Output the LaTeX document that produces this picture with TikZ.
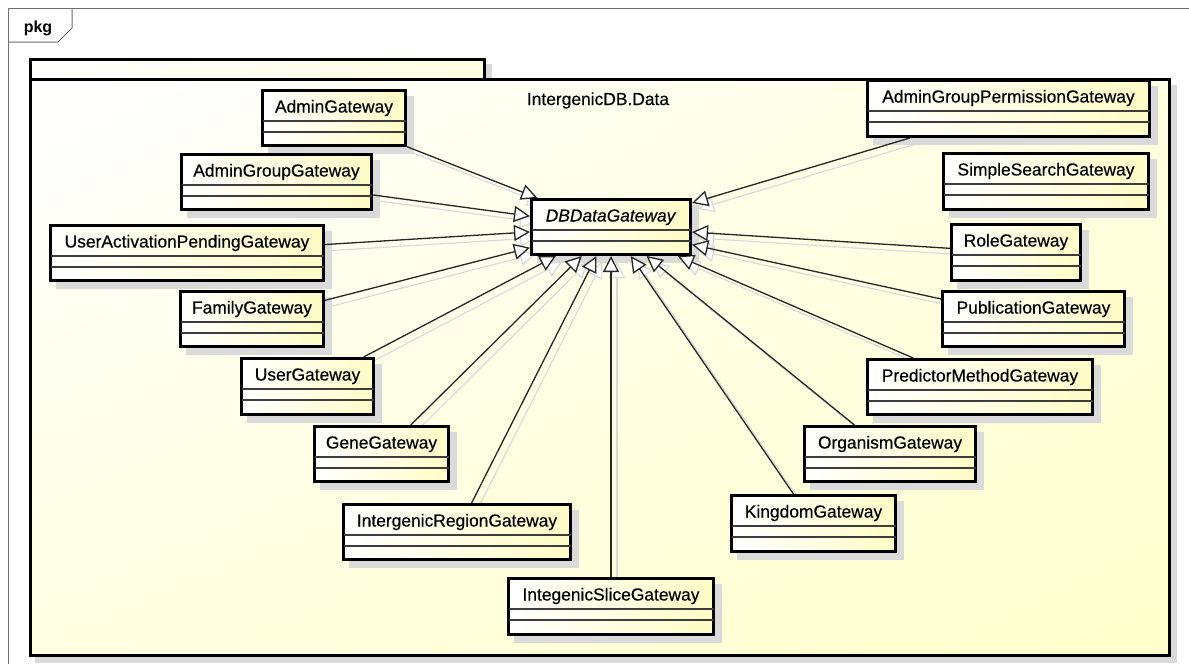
\documentclass[tikz,border=0pt]{standalone}
\usepackage{fontspec}
\setmainfont{Liberation Sans}
\newfontfamily\clsfont[FakeBold=0.35]{Liberation Sans}
\usetikzlibrary{arrows.meta,calc,shadings}

\definecolor{clsyellow}{RGB}{255,252,198}
\definecolor{pkgyellow}{RGB}{255,255,204}
\definecolor{pkgmid}{RGB}{255,255,226}
\definecolor{shadowgray}{RGB}{218,218,218}
\definecolor{framegray}{RGB}{110,110,110}
\definecolor{sepgray}{RGB}{60,60,60}

\pgfdeclarelayer{pkg}
\pgfdeclarelayer{shadows}
\pgfdeclarelayer{linkshadows}
\pgfdeclarelayer{links}
\pgfsetlayers{pkg,shadows,linkshadows,links,main}

\tikzset{
  clsbox/.style={draw=black, line width=3pt, left color=white, right color=clsyellow, inner sep=0pt},
  clsname/.style={font=\clsfont\fontsize{17.4}{20}\selectfont, anchor=base, inner sep=0pt},
  compart/.style={draw=sepgray, line width=1.4pt},
  genlink/.style={draw=black!85, line width=1.3pt, -{Triangle[length=16pt,width=16pt,fill=white]}},
  genshadow/.style={draw=shadowgray, line width=1.2pt, -{Triangle[length=16pt,width=16pt,fill=white]},
                    transform canvas={shift={(6pt,-6pt)}}},
}

% class box: name, left, top, right, bottom, class name
\newcommand\classbox[6]{%
  \node[clsbox, minimum width={#4-#2-3}, minimum height={#5-#3-3}] (#1) at ({(#2+#4)/2},{(#3+#5)/2}) {};
  \draw[compart] ($(#1.north west)+(1.5,32)$) -- ($(#1.north east)+(-1.5,32)$);
  \draw[compart] ($(#1.north west)+(1.5,43)$) -- ($(#1.north east)+(-1.5,43)$);
  \node[clsname] (#1-name) at ($(#1.north)+(0,23.5)$) {#6};
  \begin{pgfonlayer}{shadows}
    \fill[shadowgray] ($(#1.north west)+(7,7)$) rectangle ($(#1.south east)+(7,7)$);
  \end{pgfonlayer}
}

% generalization from a subclass to its parent
\newcommand\genlink[2]{%
  \begin{pgfonlayer}{linkshadows}
    \draw[genshadow] (#1) -- (#2);
  \end{pgfonlayer}
  \begin{pgfonlayer}{links}
    \draw[genlink] (#1) -- (#2);
  \end{pgfonlayer}
}

\begin{document}
\begin{tikzpicture}[x=1pt,y=-1pt]
\useasboundingbox (0,0) rectangle (1189,664);

\begin{pgfonlayer}{pkg}
  \fill[white] (0,0) rectangle (1189,664);
  % outer diagram frame with its tab
  \draw[framegray, line width=1pt] (8,664) -- (8,8) -- (1189,8);
  \draw[framegray, line width=1pt] (8,42) -- (58,42) -- (72,28) -- (72,8);
  \node[font=\fontsize{16}{18}\selectfont\bfseries, anchor=base, inner sep=0pt] (pkgtag) at (38,32) {pkg};
  % package shadow
  \fill[shadowgray] (35,64) rectangle (492,85);
  \fill[shadowgray] (35,85) rectangle (1177,663);
  % package tab and body
  \shade[left color=white, right color=pkgmid] (30.5,59.5) rectangle (484.5,79);
  \draw[line width=3pt] (30.5,59.5) rectangle (484.5,79);
  \shade[upper left=white, upper right=pkgmid, lower left=pkgmid, lower right=pkgyellow]
        (30.5,79) rectangle (1169.5,655.5);
  \draw[line width=3pt] (30.5,79) rectangle (1169.5,655.5);
  \node[clsname] (pkgname) at (598,105) {IntergenicDB.Data};
\end{pgfonlayer}

\classbox{db}{530}{198}{692}{256}{\textit{DBDataGateway}}
\classbox{admin}{261}{89}{407}{147}{AdminGateway}
\classbox{admingroup}{180}{153}{373}{211}{AdminGroupGateway}
\classbox{useract}{49}{224}{325}{282}{UserActivationPendingGateway}
\classbox{family}{179}{290}{325}{348}{FamilyGateway}
\classbox{user}{240}{357}{375}{416}{UserGateway}
\classbox{gene}{313}{425}{450}{483}{GeneGateway}
\classbox{region}{342}{503}{572}{561}{IntergenicRegionGateway}
\classbox{slice}{507}{577}{715}{636}{IntegenicSliceGateway}
\classbox{kingdom}{730}{494}{897}{553}{KingdomGateway}
\classbox{organism}{803}{425}{977}{483}{OrganismGateway}
\classbox{predictor}{866}{358}{1094}{416}{PredictorMethodGateway}
\classbox{publication}{941}{290}{1126}{348}{PublicationGateway}
\classbox{role}{950}{223}{1082}{282}{RoleGateway}
\classbox{simplesearch}{942}{152}{1150}{211}{SimpleSearchGateway}
\classbox{permission}{866}{79}{1151}{138}{AdminGroupPermissionGateway}

\genlink{admin}{db}
\genlink{admingroup}{db}
\genlink{useract}{db}
\genlink{family}{db}
\genlink{user}{db}
\genlink{gene}{db}
\genlink{region}{db}
\genlink{slice}{db}
\genlink{kingdom}{db}
\genlink{organism}{db}
\genlink{predictor}{db}
\genlink{publication}{db}
\genlink{role}{db}
\genlink{permission}{db}
\end{tikzpicture}
\end{document}
